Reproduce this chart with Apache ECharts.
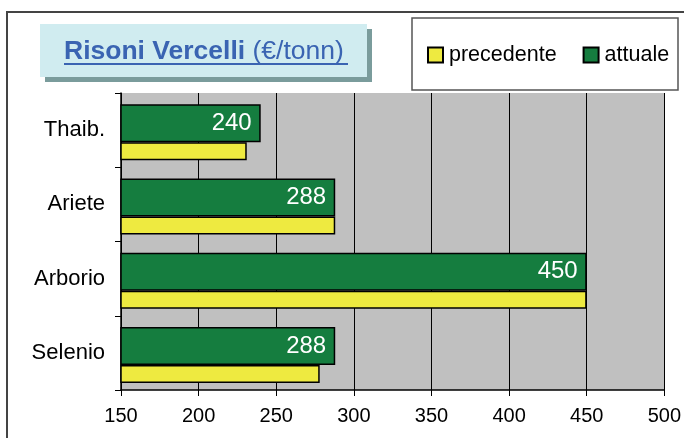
<!DOCTYPE html>
<html>
<head>
<meta charset="utf-8">
<script src="https://cdn.jsdelivr.net/npm/echarts@6/dist/echarts.min.js"></script>
<style>
html,body{margin:0;padding:0;background:#fff;}
#chart{width:684px;height:438px;}
</style>
</head>
<body>
<div id="chart"></div>
<script>
var categories = ['Thaib.', 'Ariete', 'Arborio', 'Selenio'];
var attuale = [240, 288, 450, 288];
var precedente = [231, 288, 450, 278];
var xTicks = [150, 200, 250, 300, 350, 400, 450, 500];

var chart = echarts.init(document.getElementById('chart'), null, {renderer: 'canvas'});
var FONT = 'Liberation Sans, Arial, sans-serif';
var option = {
  animation: false,
  backgroundColor: '#fff',
  grid: {
    left: 121, right: 19, top: 93, bottom: 48,
    show: true, backgroundColor: '#c0c0c0', borderWidth: 0
  },
  legend: {
    left: 427, top: 44, padding: 0,
    itemWidth: 15, itemHeight: 15, itemGap: 26,
    data: ['precedente', 'attuale'],
    textStyle: {fontFamily: FONT, fontSize: 21.5, color: '#000', padding: [0,0,0,1]},
    icon: 'rect'
  },
  xAxis: {
    type: 'value', min: xTicks[0], max: xTicks[xTicks.length-1], interval: 50,
    axisLine: {show: true, lineStyle: {color: '#000', width: 1.5}},
    axisTick: {show: true, length: 6, lineStyle: {color: '#000'}},
    axisLabel: {fontFamily: FONT, fontSize: 20, color: '#000', margin: 16},
    splitLine: {show: true, lineStyle: {color: '#000', width: 1}}
  },
  yAxis: {
    type: 'category', data: categories, inverse: true,
    axisLine: {show: true, lineStyle: {color: '#000', width: 1.5}},
    axisTick: {show: true, length: 6, lineStyle: {color: '#000'}},
    axisLabel: {fontFamily: FONT, fontSize: 22, color: '#000', margin: 16}
  },
  series: [
    {
      name: 'spacer', type: 'bar', data: [], barWidth: 4, barGap: '0%', silent: true,
      itemStyle: {color: 'transparent'}
    },
    {
      name: 'attuale', type: 'bar', data: attuale, barWidth: 38, barGap: '0%',
      itemStyle: {color: '#157d3f', borderColor: '#000', borderWidth: 1.5},
      label: {show: true, position: 'insideRight', distance: 9, color: '#fff', fontFamily: FONT, fontSize: 24}
    },
    {
      name: 'precedente', type: 'bar', data: precedente, barWidth: 18, barGap: '0%',
      itemStyle: {color: '#eeea40', borderColor: '#000', borderWidth: 1.5}
    }
  ],
  graphic: [
    {type: 'rect', shape: {x: 7, y: 12, width: 700, height: 460}, style: {fill: 'none', stroke: '#444', lineWidth: 2}, z: 0},
    {type: 'rect', shape: {x: 45, y: 29, width: 327, height: 53}, style: {fill: '#7a9c9c'}, z: 1},
    {type: 'rect', shape: {x: 40, y: 24, width: 327, height: 53}, style: {fill: '#d0ecf0'}, z: 2},
    {type: 'text', left: 64, top: 38, z: 3,
      style: {
        text: '{b|Risoni Vercelli} {n|(€/tonn)}',
        rich: {
          b: {fontFamily: FONT, fontSize: 26.5, fontWeight: 'bold', fill: '#3a64b2'},
          n: {fontFamily: FONT, fontSize: 26.5, fill: '#3a64b2'}
        },
        fontFamily: FONT, fontSize: 26.5
      }
    },
    {type: 'line', shape: {x1: 64, y1: 64, x2: 348, y2: 64}, style: {stroke: '#3a64b2', lineWidth: 2}, z: 3},
    {type: 'rect', shape: {x: 412, y: 18, width: 266, height: 72}, style: {fill: '#fff', stroke: '#555', lineWidth: 1.5}, z: 1}
  ]
};
chart.setOption(option);
</script>
</body>
</html>
